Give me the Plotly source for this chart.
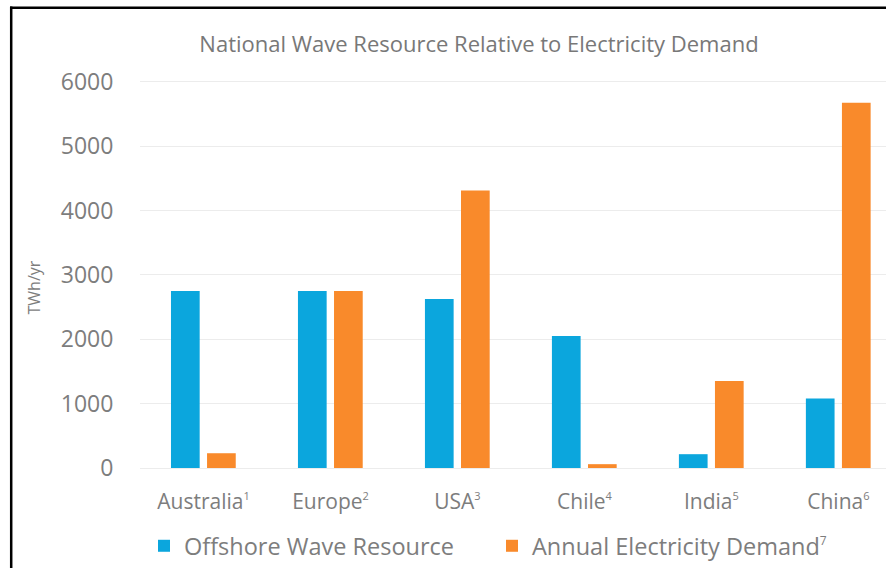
import plotly.graph_objects as go

# Countries (footnote markers shown as superscripts)
countries = ["Australia", "Europe", "USA", "Chile", "India", "China"]
footnotes = ["1", "2", "3", "4", "5", "6"]

# TWh per year
offshore_wave = [2750, 2750, 2625, 2050, 215, 1080]
annual_demand = [230, 2750, 4310, 60, 1350, 5675]

series_names = ["Offshore Wave Resource", "Annual Electricity Demand"]
series_notes = ["", "7"]
y_ticks = [0, 1000, 2000, 3000, 4000, 5000, 6000]

BLUE = "#0BA6DD"
ORANGE = "#F98A2B"
TEXT = "#7d7d7d"
GRID = "#ececec"
FONT = "Open Sans"
CLEAR = "rgba(0,0,0,0)"


def note(n, size):
    return f"<sup><span style='font-size:{size}px'>{n}</span></sup>" if n else ""


labels = [c + note(n, 11) for c, n in zip(countries, footnotes)]
legend_names = [s + note(n, 12) for s, n in zip(series_names, series_notes)]

W, H = 886, 568
L, R, T, B = 140, 0, 78, 99
pw, ph = W - L - R, H - T - B


def px_x(x):
    return (x - L) / pw


def px_y(y):
    return (H - B - y) / ph


fig = go.Figure()
fig.add_trace(go.Bar(
    x=labels, y=offshore_wave, name=legend_names[0],
    marker=dict(color=BLUE, line=dict(width=0)),
    width=0.226, offset=-0.256,
))
fig.add_trace(go.Bar(
    x=labels, y=annual_demand, name=legend_names[1],
    marker=dict(color=ORANGE, line=dict(width=0)),
    width=0.226, offset=0.028,
))

fig.update_layout(
    width=W, height=H,
    margin=dict(l=L, r=R, t=T, b=B, pad=0),
    paper_bgcolor="white", plot_bgcolor="white",
    barmode="overlay", showlegend=True,
    font=dict(family=FONT, color=TEXT, size=21),
    title=dict(
        text="National Wave Resource Relative to Electricity Demand",
        x=479 / W, xanchor="center",
        y=1 - 44 / H, yanchor="middle",
        font=dict(family=FONT, size=22, color="#787878"),
    ),
    xaxis=dict(
        type="category", range=[-0.5, 5.375],
        showgrid=False, zeroline=False, showline=False,
        ticks="outside", ticklen=14, tickcolor=CLEAR,
        tickfont=dict(size=21, color=TEXT),
    ),
    yaxis=dict(
        range=[-15, 6058], tickvals=y_ticks,
        showgrid=True, gridcolor=GRID, gridwidth=1,
        zeroline=True, zerolinecolor=GRID, zerolinewidth=1,
        showline=False,
        ticks="outside", ticklen=21, tickcolor=CLEAR,
        tickfont=dict(size=23, color=TEXT),
    ),
    legend=dict(
        orientation="h",
        x=px_x(144), xanchor="left",
        y=px_y(546), yanchor="middle",
        font=dict(size=23.5, color=TEXT),
        entrywidth=303, entrywidthmode="pixels",
        maxheight=120,
        bgcolor=CLEAR, borderwidth=0,
        itemclick=False, itemdoubleclick=False,
    ),
    annotations=[dict(
        text="TWh/yr", textangle=-90,
        x=px_x(33.5), y=px_y(287), xref="paper", yref="paper",
        xanchor="center", yanchor="middle", showarrow=False,
        font=dict(family=FONT, size=16, color=TEXT),
    )],
    shapes=[
        # frame: top and left edges
        dict(type="line", xref="paper", yref="paper",
             x0=px_x(10), x1=px_x(W), y0=px_y(7.7), y1=px_y(7.7),
             line=dict(color="black", width=2.5)),
        dict(type="line", xref="paper", yref="paper",
             x0=px_x(11.2), x1=px_x(11.2), y0=px_y(6.5), y1=px_y(H),
             line=dict(color="black", width=2.5)),
    ],
)

fig.write_html("out.html", config={"displayModeBar": False})
